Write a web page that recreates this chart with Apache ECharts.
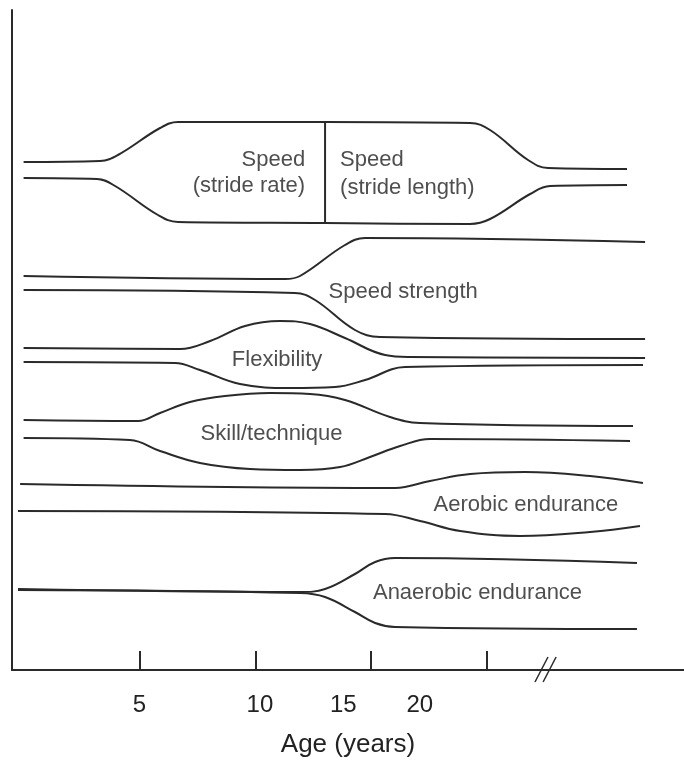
<!DOCTYPE html>
<html>
<head>
<meta charset="utf-8">
<script src="https://cdn.jsdelivr.net/npm/echarts@6/dist/echarts.min.js"></script>
<style>
  html, body { margin: 0; padding: 0; background: #fff; }
  #main { width: 684px; height: 760px; }
</style>
</head>
<body>
<div id="main"></div>
<script>
// x = age (years), y = relative trainability level
var tickAges = [5, 10, 15, 20];
var tickLabels = ['5', '10', '15', '20'];
var labelAges = [5, 10.2, 13.8, 17.1];   // printed labels sit off the ticks in the original

var speedUpper = [[0, 50.8], [3.30, 50.9], [4.07, 51.5], [5.89, 54.2], [6.66, 54.8], [13.01, 54.8], [19.27, 54.7], [20.13, 54.0], [21.77, 51.0], [22.63, 50.2], [26.04, 50.1]];
var speedLower = [[0, 49.2], [3.17, 49.1], [3.95, 48.4], [5.80, 45.5], [6.66, 44.8], [13.01, 44.7], [19.27, 44.6], [20.13, 45.1], [21.86, 47.6], [22.72, 48.4], [26.04, 48.5]];
var speedSplit = [[13.01, 54.8], [13.01, 44.7]];

var strengthUpper = [[0, 39.4], [11.28, 39.1], [11.93, 39.4], [13.87, 42.5], [14.74, 43.2], [26.82, 42.8]];
var strengthLower = [[0, 38.0], [11.71, 37.7], [12.58, 37.0], [14.30, 34.0], [15.38, 33.3], [26.82, 33.1]];

var flexUpper = [[0, 32.2], [6.75, 32.1], [8.05, 32.9], [9.56, 34.4], [11.07, 34.9], [12.36, 34.6], [13.87, 33.2], [15.60, 31.5], [16.68, 31.3], [26.82, 31.2]];
var flexLower = [[0, 30.8], [6.53, 30.7], [7.61, 30.0], [9.34, 28.6], [11.50, 28.2], [13.44, 28.3], [14.74, 29.0], [16.46, 30.3], [26.73, 30.5]];

var skillUpper = [[0, 25.0], [4.94, 24.9], [5.89, 25.7], [7.18, 26.8], [8.69, 27.4], [10.64, 27.7], [12.36, 27.6], [13.87, 27.0], [15.81, 25.3], [17.11, 24.7], [26.30, 24.4]];
var skillLower = [[0, 23.2], [4.59, 23.0], [5.89, 21.9], [7.61, 20.7], [9.77, 20.1], [11.93, 20.0], [13.66, 20.3], [14.95, 21.3], [16.25, 22.4], [17.54, 23.1], [26.17, 22.9]];

var aerobicUpper = [[-0.15, 18.6], [16.03, 18.2], [17.54, 18.9], [19.27, 19.6], [21.64, 19.8], [24.45, 19.4], [26.73, 18.7]];
var aerobicLower = [[-0.24, 15.9], [15.60, 15.6], [17.11, 14.9], [18.84, 13.9], [21.43, 13.4], [24.45, 13.8], [26.60, 14.4]];

var anaerobicUpper = [[-0.24, 8.1], [11.93, 7.8], [13.01, 8.1], [14.30, 9.6], [15.17, 10.8], [16.03, 11.2], [26.47, 10.7]];
var anaerobicLower = [[-0.24, 8.0], [11.93, 7.7], [13.01, 7.3], [14.30, 5.8], [15.17, 4.7], [16.03, 4.3], [26.47, 4.1]];

var axisBreak = [[[22.07, -1.2], [22.63, 1.3]], [[22.42, -1.2], [22.98, 1.3]]];

var bandLabels = [
    { text: 'Speed', at: [12.15, 51.0], align: 'right' },
    { text: '(stride rate)', at: [12.15, 48.4], align: 'right' },
    { text: 'Speed', at: [13.66, 51.0], align: 'left' },
    { text: '(stride length)', at: [13.66, 48.2], align: 'left' },
    { text: 'Speed strength', at: [16.38, 37.8], align: 'center' },
    { text: 'Flexibility', at: [10.94, 31.0], align: 'center' },
    { text: 'Skill/technique', at: [10.70, 23.6], align: 'center' },
    { text: 'Aerobic endurance', at: [21.68, 16.5], align: 'center' },
    { text: 'Anaerobic endurance', at: [19.59, 7.7], align: 'center' }
];

var INK = '#2a2a2a';
var FONT = 'Liberation Sans, Arial, sans-serif';

function edge(data, smooth) {
    return {
        type: 'line',
        data: data,
        smooth: smooth === undefined ? 0.4 : smooth,
        symbol: 'none',
        clip: false,
        lineStyle: { color: INK, width: 2 },
        silent: true
    };
}

var series = [
    edge(speedUpper), edge(speedLower), edge(speedSplit, false),
    edge(strengthUpper), edge(strengthLower),
    edge(flexUpper), edge(flexLower),
    edge(skillUpper), edge(skillLower),
    edge(aerobicUpper), edge(aerobicLower),
    edge(anaerobicUpper), edge(anaerobicLower)
];
axisBreak.forEach(function (seg) {
    var s = edge(seg, false);
    s.lineStyle.width = 1.5;
    series.push(s);
});

series.push({
    type: 'scatter',
    symbolSize: 0,
    silent: true,
    data: bandLabels.map(function (l) {
        return {
            value: l.at,
            label: {
                show: true,
                position: 'inside',
                formatter: l.text,
                align: l.align,
                verticalAlign: 'middle',
                color: '#222',
                fontSize: 22,
                fontFamily: FONT
            }
        };
    })
});

var chart = echarts.init(document.getElementById('main'));
chart.setOption({
    backgroundColor: '#fff',
    animation: false,
    grid: { left: 12, right: 0, top: 10, bottom: 90, outerBoundsMode: 'none' },
    xAxis: {
        type: 'value',
        min: -0.5,
        max: 28.5,
        name: 'Age (years)',
        nameLocation: 'middle',
        nameGap: 62,
        nameTextStyle: { color: '#222', fontSize: 26, fontFamily: FONT },
        axisLine: { onZero: false, lineStyle: { color: INK, width: 2 } },
        axisTick: { inside: true, length: 19, customValues: tickAges, lineStyle: { color: INK, width: 2 } },
        axisLabel: {
            customValues: labelAges,
            margin: 23,
            color: '#222',
            fontSize: 24,
            fontFamily: FONT,
            formatter: function (v) {
                var i = labelAges.indexOf(v);
                return i >= 0 ? tickLabels[i] : '';
            }
        },
        splitLine: { show: false }
    },
    yAxis: {
        type: 'value',
        min: 0,
        max: 66,
        axisLine: { show: true, onZero: false, lineStyle: { color: INK, width: 2 } },
        axisTick: { show: false },
        axisLabel: { show: false },
        splitLine: { show: false }
    },
    series: series
});
</script>
</body>
</html>
